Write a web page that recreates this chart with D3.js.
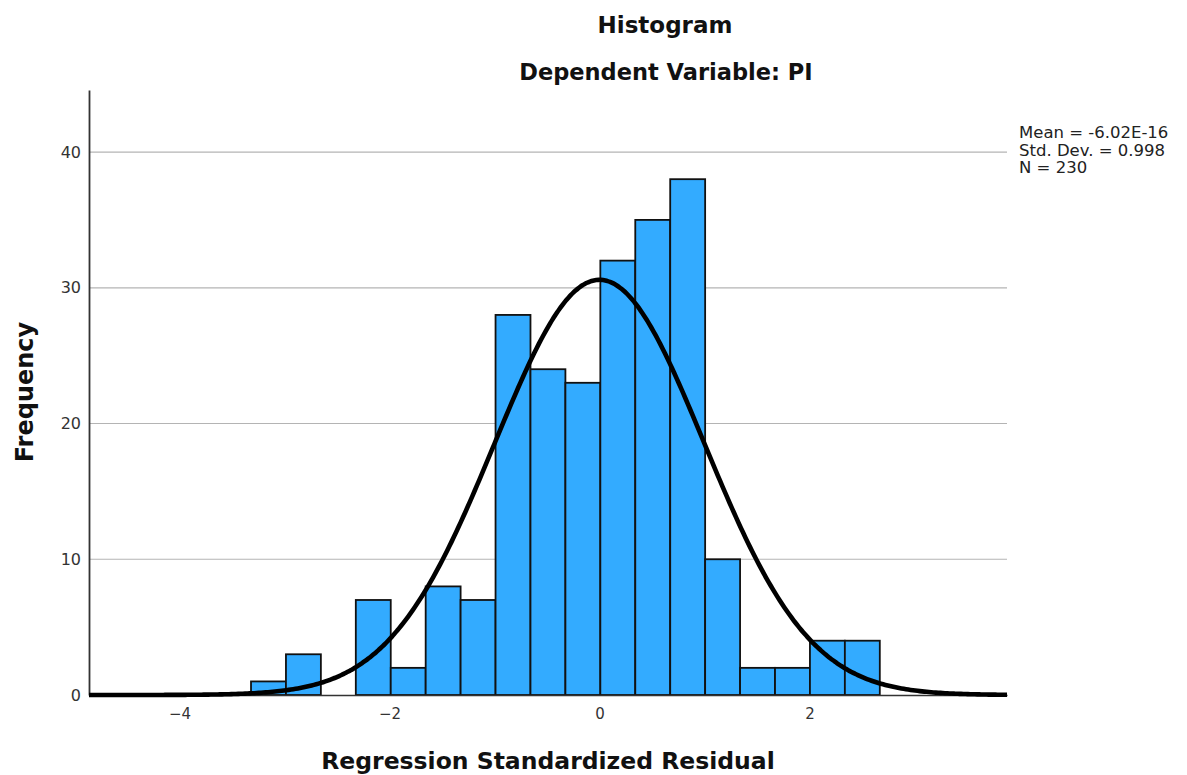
<!DOCTYPE html>
<html>
<head>
<meta charset="utf-8">
<script src="https://cdn.jsdelivr.net/npm/d3@7"></script>
<style>
  html, body { margin: 0; padding: 0; background: #fff; }
  svg { display: block; }
  text { font-family: "DejaVu Sans", sans-serif; }
</style>
</head>
<body>
<svg id="chart" width="1187" height="775"></svg>
<script>
// Histogram of regression standardized residuals (N = 230)
const binStart = -3.319;
const binWidth = 0.3327;
const binCounts = [1, 3, 0, 7, 2, 8, 7, 28, 24, 23, 32, 35, 38, 10, 2, 2, 4, 4];

const xTicks = [-4, -2, 0, 2];
const yTicks = [0, 10, 20, 30, 40];

const meanValue = -6.02e-16;
const sdValue = 0.998;
const nValue = 230;
const statsLines = ["Mean = -6.02E-16", "Std. Dev. = 0.998", "N = 230"];

const titleText = "Histogram";
const subtitleText = "Dependent Variable: PI";
const xTitle = "Regression Standardized Residual";
const yTitle = "Frequency";

const plot = { left: 89, right: 1007, top: 90, bottom: 695 };

const svg = d3.select("#chart");

const x = d3.scaleLinear().domain([-4.862, 3.881]).range([plot.left, plot.right]);
const y = d3.scaleLinear().domain([0, 44.57]).range([plot.bottom, plot.top]);

const bins = binCounts.map((c, i) => ({
  x0: binStart + i * binWidth,
  x1: binStart + (i + 1) * binWidth,
  count: c
}));

// grid lines
svg.append("g")
  .selectAll("line")
  .data(yTicks.filter(t => t > 0))
  .join("line")
  .attr("x1", plot.left).attr("x2", plot.right)
  .attr("y1", d => y(d)).attr("y2", d => y(d))
  .attr("stroke", "#b4b4b4").attr("stroke-width", 1.2);

// bars
svg.append("g")
  .selectAll("rect")
  .data(bins.filter(b => b.count > 0))
  .join("rect")
  .attr("x", d => x(d.x0))
  .attr("width", d => x(d.x1) - x(d.x0))
  .attr("y", d => y(d.count))
  .attr("height", d => y(0) - y(d.count))
  .attr("fill", "#33abff")
  .attr("stroke", "#111")
  .attr("stroke-width", 1.8);

// axes
const xAxis = d3.axisBottom(x).tickValues(xTicks).tickSize(0).tickPadding(13)
  .tickFormat(d => d < 0 ? "\u2212" + Math.abs(d) : d);
const gx = svg.append("g").attr("transform", `translate(0,${plot.bottom})`).call(xAxis);
gx.select(".domain").attr("stroke", "#333").attr("stroke-width", 1.5);
gx.selectAll("text").attr("font-size", 15).attr("fill", "#333");

const yAxis = d3.axisLeft(y).tickValues(yTicks).tickSize(0).tickPadding(8);
const gy = svg.append("g").attr("transform", `translate(${plot.left},0)`).call(yAxis);
gy.select(".domain").attr("stroke", "#333").attr("stroke-width", 1.8);
gy.selectAll("text").attr("font-size", 16).attr("fill", "#333");

// normal curve
const scaleN = nValue * binWidth / (sdValue * Math.sqrt(2 * Math.PI));
const curvePts = d3.range(0, 401).map(i => {
  const v = x.domain()[0] + (x.domain()[1] - x.domain()[0]) * i / 400;
  const z = (v - meanValue) / sdValue;
  return [v, scaleN * Math.exp(-0.5 * z * z)];
});
svg.append("path")
  .datum(curvePts)
  .attr("d", d3.line().x(d => x(d[0])).y(d => y(d[1])).curve(d3.curveBasis))
  .attr("fill", "none")
  .attr("stroke", "#000")
  .attr("stroke-width", 4.6)
  .attr("stroke-linecap", "butt");

// titles
svg.append("text").attr("x", 665).attr("y", 33).attr("text-anchor", "middle")
  .attr("font-size", 23).attr("font-weight", "bold").attr("fill", "#111").text(titleText);
svg.append("text").attr("x", 666).attr("y", 80).attr("text-anchor", "middle")
  .attr("font-size", 22.5).attr("font-weight", "bold").attr("fill", "#111").text(subtitleText);

svg.append("text").attr("x", 548).attr("y", 769).attr("text-anchor", "middle")
  .attr("font-size", 23.5).attr("font-weight", "bold").attr("fill", "#111").text(xTitle);
svg.append("text")
  .attr("transform", "translate(33,392) rotate(-90)")
  .attr("text-anchor", "middle")
  .attr("font-size", 24).attr("font-weight", "bold").attr("fill", "#111").text(yTitle);

// summary statistics
svg.append("g")
  .selectAll("text")
  .data(statsLines)
  .join("text")
  .attr("x", 1019)
  .attr("y", (d, i) => 138 + i * 17.5)
  .attr("font-size", 16.5)
  .attr("fill", "#222")
  .text(d => d);
</script>
</body>
</html>
